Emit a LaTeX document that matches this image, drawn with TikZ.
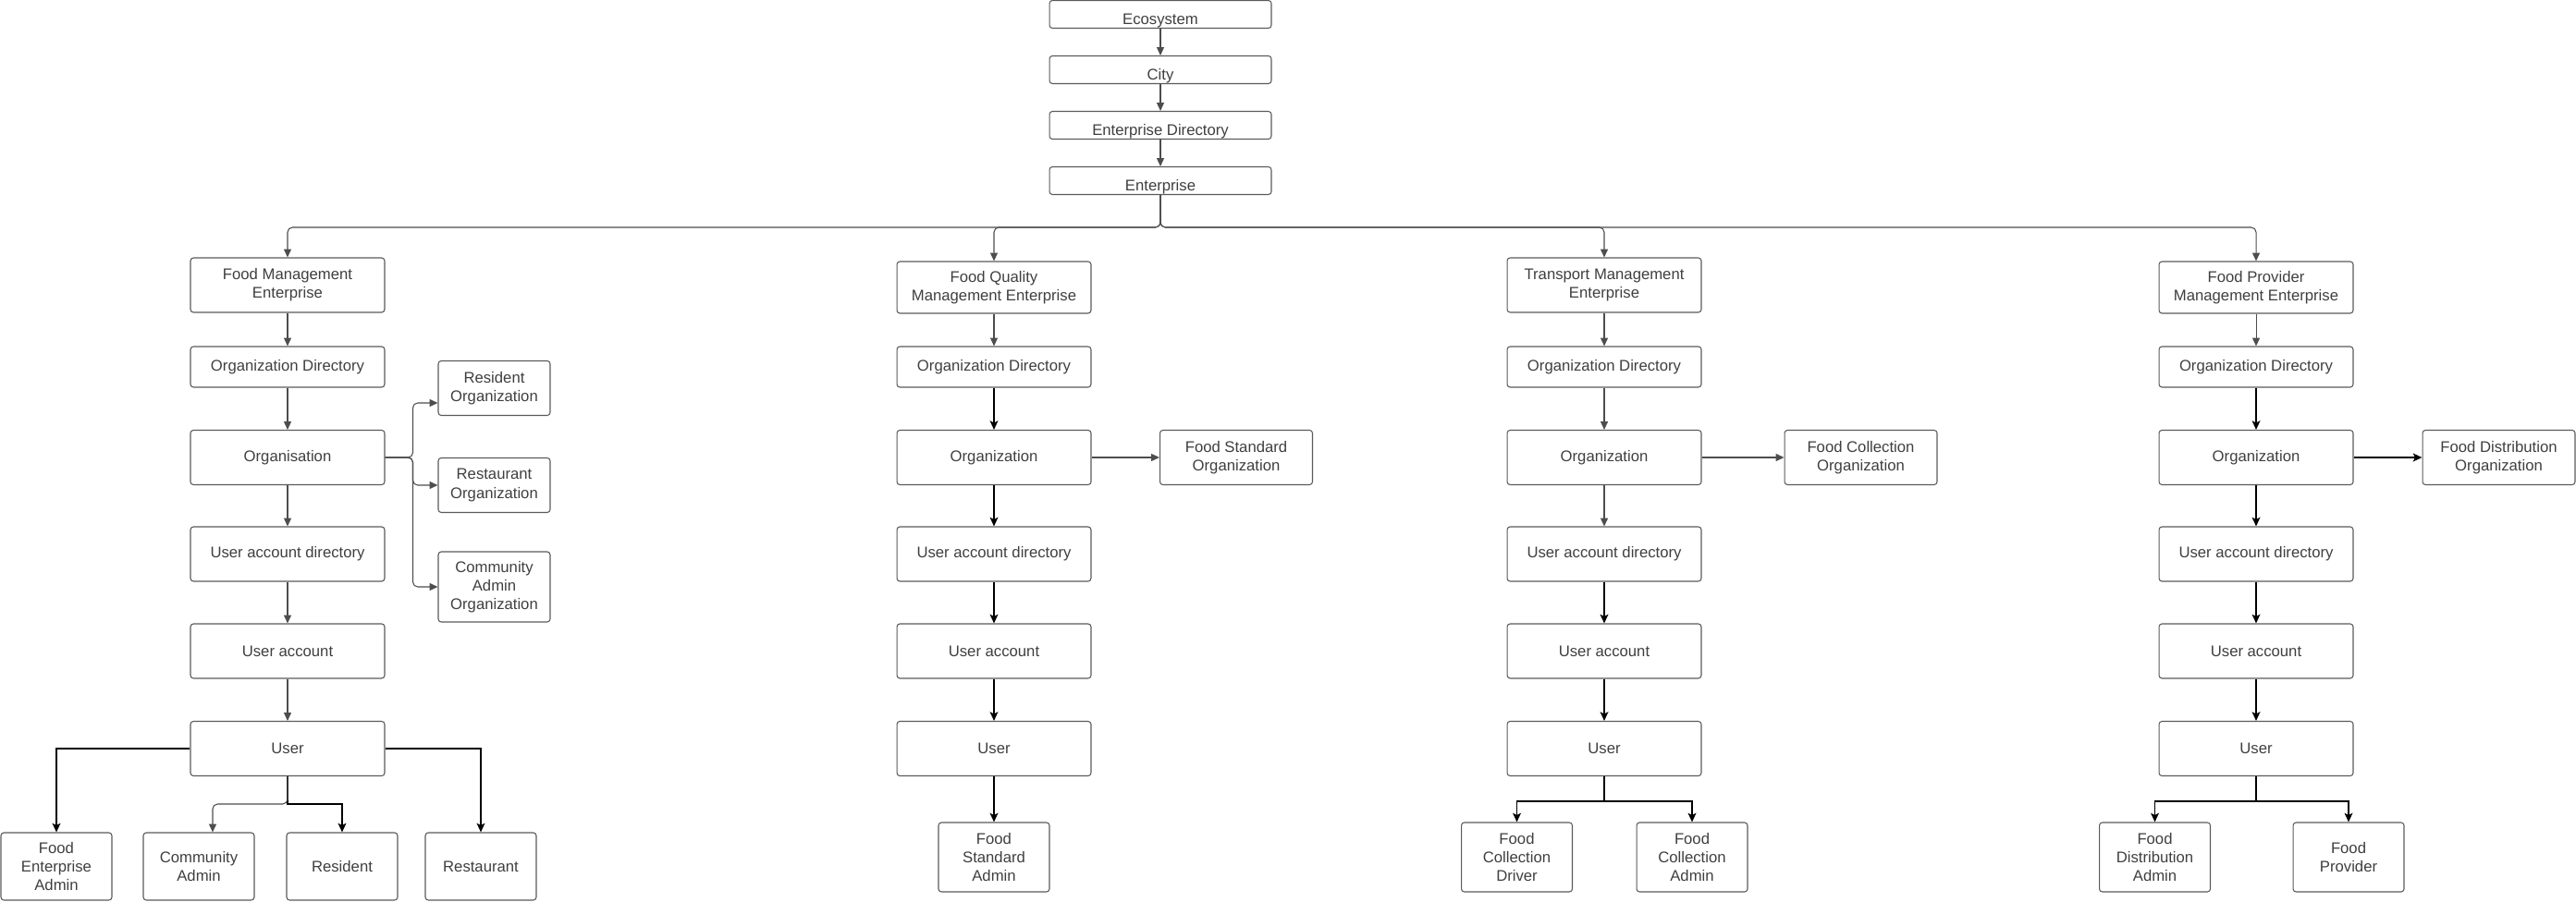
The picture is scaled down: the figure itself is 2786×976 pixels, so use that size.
\documentclass[tikz,border=0pt]{standalone}
\usepackage{fontspec}
\setmainfont{Liberation Sans}
\usetikzlibrary{arrows.meta, positioning}
\definecolor{eGray}{HTML}{4D4D4D}
\definecolor{eText}{HTML}{3F3F3F}
\definecolor{eEdge}{HTML}{5A5A5A}

\begin{document}
\begin{tikzpicture}[x=0.02cm, y=-0.02cm,
    every node/.style={font=\fontsize{9.5}{11.4}\selectfont, text=eText},
    bx/.style={draw=eEdge, line width=0.6pt, rounded corners=1.8pt, align=center,
      inner sep=0pt, minimum width=4.2cm, minimum height=1.18cm},
    topbx/.style={bx, minimum width=4.8cm, minimum height=0.6cm,
      text height=13.5pt, text depth=1.5pt},
    sidebx/.style={bx, minimum width=3.3cm},
    leaf/.style={bx, minimum width=2.4cm, minimum height=1.5cm},
    ga/.style={draw=eGray, line width=0.6pt, -{Triangle[length=5pt,width=4.5pt]}},
    ba/.style={draw=black, line width=0.85pt, -{Stealth[length=5.5pt,width=5pt,inset=1.2pt]}}]
  \useasboundingbox (0,0) rectangle (2786,976);

  % top chain
  \foreach \t/\n [count=\i from 0] in {Ecosystem/eco, City/city,
      Enterprise Directory/entdir, Enterprise/ent}
    \node[topbx] (\n) at (1255,15.5+60*\i) {\t};

  % enterprises
  \node[bx] (fme) at (311,308.5) {Food Management\\Enterprise};
  \node[bx, minimum height=1.12cm] (fqme) at (1075,311) {Food Quality\\Management Enterprise};
  \node[bx] (tme) at (1735,308.5) {Transport Management\\Enterprise};
  \node[bx, minimum height=1.12cm] (fpme) at (2440,311) {Food Provider\\Management Enterprise};

  % same chain under each enterprise
  \foreach \c/\cx/\o in {1/311/Organisation, 2/1075/Organization,
      3/1735/Organization, 4/2440/Organization} {
    \node[bx, minimum height=0.88cm] (od\c) at (\cx,397) {Organization Directory};
    \node[bx] (org\c) at (\cx,495) {\o};
    \node[bx] (uad\c) at (\cx,599.5) {User account directory};
    \node[bx] (ua\c) at (\cx,704.5) {User account};
    \node[bx] (usr\c) at (\cx,810) {User};
  }

  % organisations
  \node[bx, minimum width=2.42cm] (resorg) at (534.5,420) {Resident\\Organization};
  \node[bx, minimum width=2.42cm] (restorg) at (534.5,525) {Restaurant\\Organization};
  \node[bx, minimum width=2.42cm, minimum height=1.52cm] (caorg) at (534.5,635) {Community\\Admin\\Organization};
  \node[sidebx] (fso) at (1337,495) {Food Standard\\Organization};
  \node[sidebx] (fco) at (2012.5,495) {Food Collection\\Organization};
  \node[sidebx] (fdo) at (2702.5,495) {Food Distribution\\Organization};

  % users
  \node[leaf, minimum height=1.46cm] (fea) at (61,937.5) {Food\\Enterprise\\Admin};
  \node[leaf, minimum height=1.46cm] (cadm) at (215,937.5) {Community\\Admin};
  \node[leaf, minimum height=1.46cm] (res) at (370,937.5) {Resident};
  \node[leaf, minimum height=1.46cm] (rest) at (520,937.5) {Restaurant};
  \node[leaf] (fsa) at (1075,927.5) {Food\\Standard\\Admin};
  \node[leaf] (fcd) at (1640.5,927.5) {Food\\Collection\\Driver};
  \node[leaf] (fca) at (1830,927.5) {Food\\Collection\\Admin};
  \node[leaf] (fda) at (2330.5,927.5) {Food\\Distribution\\Admin};
  \node[leaf] (fprov) at (2540,927.5) {Food\\Provider};

  % arrows
  \foreach \a/\b in {eco/city, city/entdir, entdir/ent}
    \draw[ga] (\a) -- (\b);
  \foreach \b in {fme, fqme, tme, fpme}
    \draw[ga, rounded corners=3pt] (ent.south) -- ++(0,35) -| (\b.north);
  \foreach \a/\b in {fme/od1, od1/org1, org1/uad1, uad1/ua1, ua1/usr1,
      fqme/od2, org2/fso, tme/od3, od3/org3, org3/uad3, org3/fco, fpme/od4}
    \draw[ga] (\a) -- (\b);
  \foreach \a/\b in {od2/org2, org2/uad2, uad2/ua2, ua2/usr2, usr2/fsa,
      uad3/ua3, ua3/usr3, od4/org4, org4/uad4, org4/fdo, uad4/ua4, ua4/usr4}
    \draw[ba] (\a) -- (\b);

  \draw[ga, rounded corners=3pt] (org1.east) -- ++(30,0) |- ([yshift=-0.32cm]resorg.west);
  \draw[ga, rounded corners=3pt] (org1.east) -- ++(30,0) |- (restorg.west);
  \draw[ga, rounded corners=3pt] (org1.east) -- ++(30,0) |- (caorg.west);

  \draw[ba] (usr1.west) -| (fea.north);
  \draw[ba] (usr1.east) -| (rest.north);
  \draw[ba] (usr1.south) -- ++(0,30) -| (res.north);
  \draw[ga, rounded corners=3pt] (usr1.south) -- ++(0,30) -| ([xshift=0.3cm]cadm.north);
  \foreach \u/\lf in {usr3/fcd, usr3/fca, usr4/fda, usr4/fprov}
    \draw[ba] (\u.south) -- ++(0,27) -| (\lf.north);
\end{tikzpicture}
\end{document}
